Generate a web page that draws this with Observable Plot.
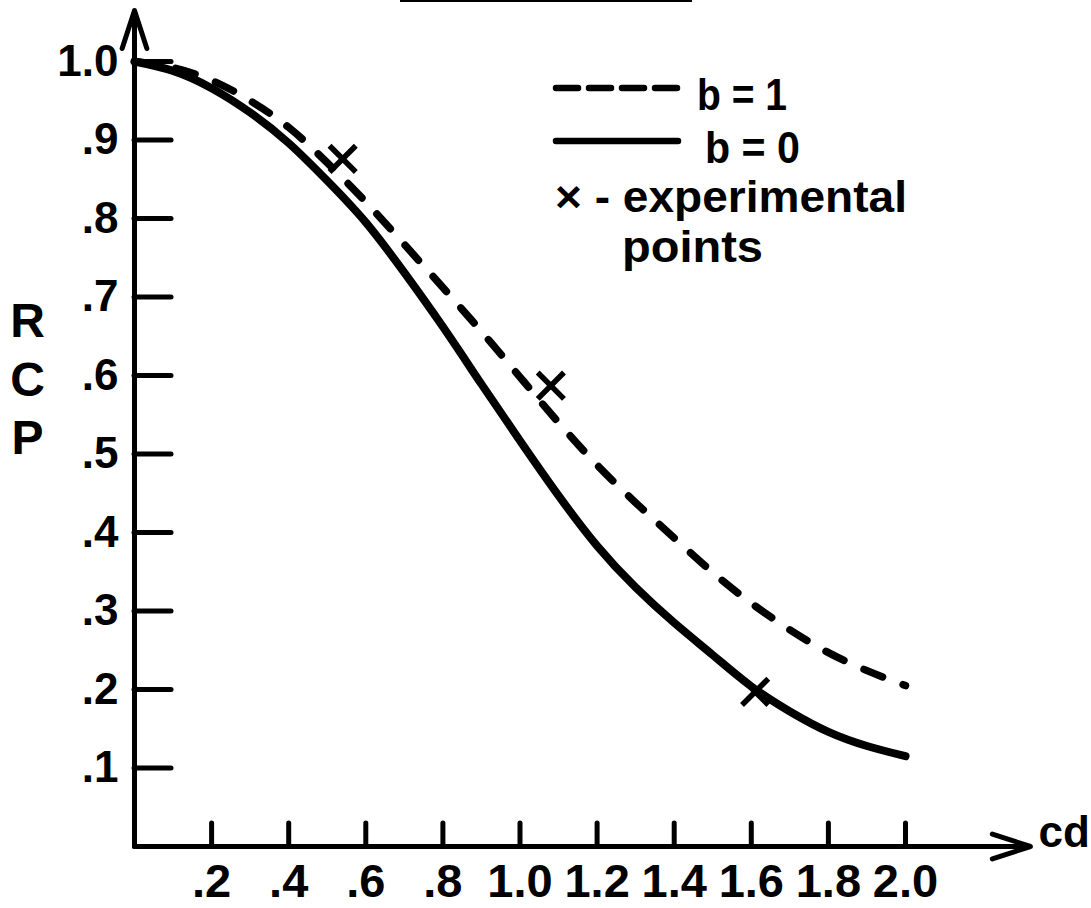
<!DOCTYPE html>
<html>
<head>
<meta charset="utf-8">
<script src="https://cdn.jsdelivr.net/npm/d3@7"></script>
<script src="https://cdn.jsdelivr.net/npm/@observablehq/plot@0.6"></script>
<style>
  html, body { margin: 0; padding: 0; background: #fff; }
  #wrap { position: relative; width: 1091px; height: 908px; overflow: hidden; background: #fff; }
  #chart { position: absolute; left: 0; top: 0; }
  #legend { position: absolute; left: 0; top: 0; pointer-events: none; }
  #titlerule { position: absolute; left: 400px; top: 0; width: 292px; height: 2px; background: #000; }
</style>
</head>
<body>
<div id="wrap">
  <div id="chart"></div>
  <div id="titlerule"></div>
  <svg id="legend" width="1091" height="908"></svg>
</div>
<script>
// ---- data ----
const cd = [0, 0.1, 0.2, 0.3, 0.4, 0.5, 0.6, 0.7, 0.8, 0.9, 1.0, 1.1, 1.2, 1.3, 1.4, 1.5, 1.6, 1.7, 1.8, 1.9, 2.0];
// b = 0 (solid)
const rcpB0 = [1.0, 0.988, 0.966, 0.935, 0.896, 0.848, 0.795, 0.731, 0.662, 0.589, 0.517, 0.447, 0.383, 0.330, 0.285, 0.244, 0.204, 0.172, 0.146, 0.128, 0.115];
// b = 1 (dashed)
const rcpB1 = [1.0, 0.992, 0.976, 0.95, 0.916, 0.871, 0.821, 0.767, 0.712, 0.656, 0.598, 0.54, 0.486, 0.438, 0.393, 0.349, 0.31, 0.276, 0.247, 0.224, 0.205];
// experimental points
const expCd = [0.54, 1.08, 1.61];
const expRcp = [0.876, 0.587, 0.197];

const xTicks = [0.2, 0.4, 0.6, 0.8, 1.0, 1.2, 1.4, 1.6, 1.8, 2.0];
const xTickLabels = [".2", ".4", ".6", ".8", "1.0", "1.2", "1.4", "1.6", "1.8", "2.0"];
const yTicks = [0.1, 0.2, 0.3, 0.4, 0.5, 0.6, 0.7, 0.8, 0.9, 1.0];
const yTickLabels = [".1", ".2", ".3", ".4", ".5", ".6", ".7", ".8", ".9", "1.0"];

const yAxisLabel = "R\nC\nP";
const xAxisLabel = "cd";
const legendLabels = ["b = 1", "b = 0", "× - experimental", "points"];

// ---- build ----
const font = "'Liberation Sans', Arial, sans-serif";
const b0 = cd.map((c, i) => ({cd: c, rcp: rcpB0[i]}));
const b1 = cd.map((c, i) => ({cd: c, rcp: rcpB1[i]}));
const exp = expCd.map((c, i) => ({cd: c, rcp: expRcp[i]}));

const chart = Plot.plot({
  width: 1091,
  height: 908,
  marginLeft: 134,
  marginRight: 186,
  marginTop: 61,
  marginBottom: 62,
  x: {domain: [0, 2]},
  y: {domain: [0, 1]},
  style: {fontFamily: font, fontWeight: "bold", background: "#fff", color: "#000", overflow: "visible"},
  marks: [
    Plot.axisY(yTicks, {
      tickSize: -37, tickPadding: 53, strokeWidth: 5, strokeLinecap: "round",
      fontSize: 44, label: null,
      tickFormat: d => yTickLabels[yTicks.indexOf(d)]
    }),
    Plot.axisX(xTicks, {
      tickSize: -23, tickPadding: 40, strokeWidth: 5, strokeLinecap: "round",
      fontSize: 47, label: null,
      tickFormat: d => xTickLabels[xTicks.indexOf(d)]
    }),
    // axis spines with arrowheads
    Plot.arrow([{x1: 0, y1: 0, x2: 0, y2: 1.065}], {
      x1: "x1", y1: "y1", x2: "x2", y2: "y2",
      strokeWidth: 5, headAngle: 36, headLength: 12, strokeLinecap: "round"
    }),
    Plot.arrow([{x1: 0, y1: 0, x2: 2.324, y2: 0}], {
      x1: "x1", y1: "y1", x2: "x2", y2: "y2",
      strokeWidth: 5, headAngle: 36, headLength: 12, strokeLinecap: "round"
    }),
    Plot.line(b0, {x: "cd", y: "rcp", stroke: "#000", strokeWidth: 8, curve: "natural", strokeLinecap: "round"}),
    Plot.line(b1, {x: "cd", y: "rcp", stroke: "#000", strokeWidth: 7.5, curve: "natural",
      strokeDasharray: "20,22", strokeLinecap: "round"}),
    Plot.dot(exp, {x: "cd", y: "rcp", symbol: "times", r: 12, stroke: "#000", strokeWidth: 5.5}),
    Plot.text([yAxisLabel], {frameAnchor: "left", dx: -107, dy: -77, fontSize: 48, lineHeight: 1.22,
      textAnchor: "middle", fontWeight: "bold"}),
    Plot.text([xAxisLabel], {frameAnchor: "bottom-right", dx: 133, dy: 0, fontSize: 44,
      textAnchor: "start", fontWeight: "bold"})
  ]
});
document.getElementById("chart").appendChild(chart);

// ---- legend (drawn inside the plot area, as in the reference) ----
const lg = d3.select("#legend");
lg.append("line").attr("x1", 556).attr("y1", 88).attr("x2", 683).attr("y2", 88)
  .attr("stroke", "#000").attr("stroke-width", 6.5).attr("stroke-dasharray", "22,11").attr("stroke-linecap", "round");
lg.append("line").attr("x1", 556).attr("y1", 141).attr("x2", 678).attr("y2", 141)
  .attr("stroke", "#000").attr("stroke-width", 6.5).attr("stroke-linecap", "round");
const legendPos = [[697, 110], [705, 163], [555, 212], [622, 262]];
const legendWidths = [90, 95, 352, 141];
legendLabels.forEach((t, i) => {
  lg.append("text").attr("x", legendPos[i][0]).attr("y", legendPos[i][1])
    .attr("font-family", font).attr("font-weight", "bold").attr("font-size", 44)
    .attr("textLength", legendWidths[i]).attr("lengthAdjust", "spacingAndGlyphs")
    .attr("fill", "#000").text(t);
});
</script>
</body>
</html>
